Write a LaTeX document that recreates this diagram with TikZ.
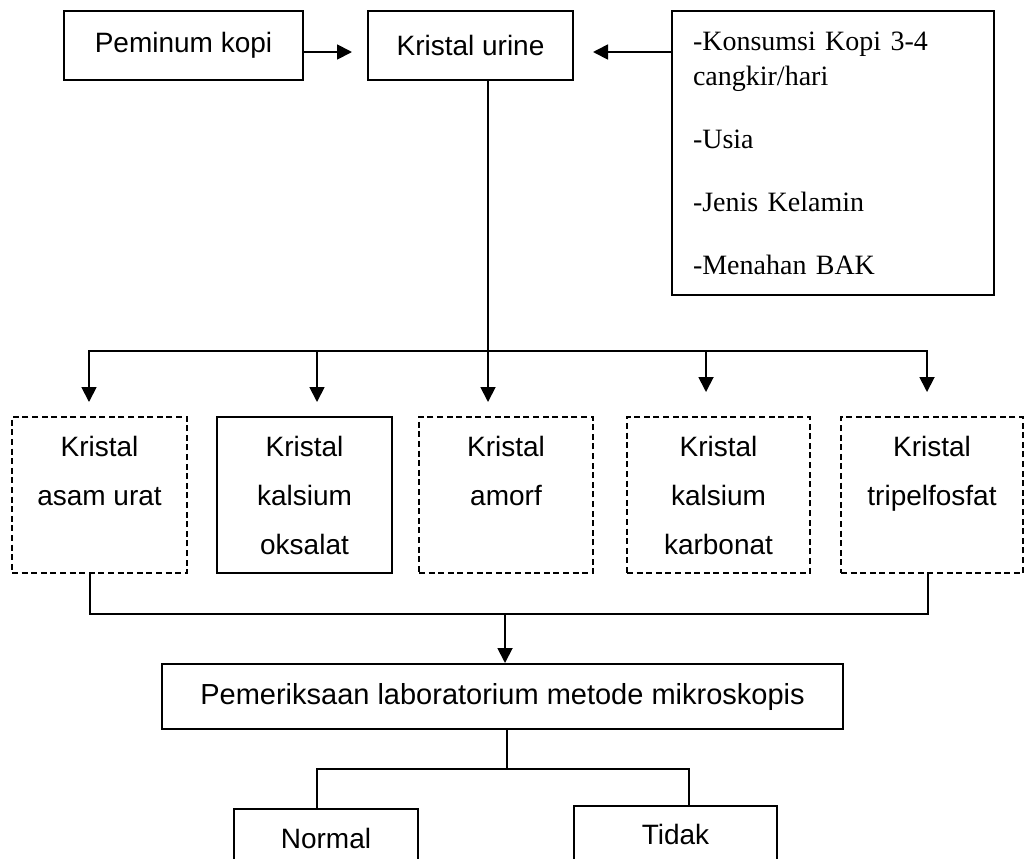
\documentclass[tikz,border=0pt]{standalone}
\usepackage{fontspec}
\setmainfont{Liberation Sans}
\newfontfamily\seriffont{Liberation Serif}
\usetikzlibrary{arrows.meta}
\begin{document}
\begin{tikzpicture}[x=0.5pt,y=-0.5pt,
  box/.style={draw, line width=1pt, inner sep=0pt, align=center, font=\fontsize{14}{24.5}\selectfont},
  dbox/.style={box, dash pattern=on 3pt off 1.8pt},
  conn/.style={line width=0.9pt},
  arr/.style={conn, -{Triangle[length=7.5pt,width=7.5pt]}}]
\useasboundingbox (0,0) rectangle (1026,858);
\clip (0,0) rectangle (1026,858);

% top row
\node[box, minimum width=119.5pt, minimum height=34.5pt] (peminum) at (183.5,45.5) {Peminum kopi};
\node[box, minimum width=102.5pt, minimum height=34.5pt] (urine) at (470.5,45.5) {Kristal urine};
\node[box, minimum width=161pt, minimum height=142pt, text width=140pt, align=left,
      font=\seriffont\fontsize{14}{17.5}\selectfont] (faktor) at (833,153)
  {-Konsumsi Kopi 3-4\\cangkir/hari\\[14pt]-Usia\\[14pt]-Jenis Kelamin\\[14pt]-Menahan BAK};

% crystal row
\node[dbox, minimum width=87.5pt, minimum height=78pt] (asam) at (99.5,495) {Kristal\\asam urat\\\mbox{}};
\node[box, minimum width=87.5pt, minimum height=78pt] (oksalat) at (304.5,495) {Kristal\\kalsium\\oksalat};
\node[dbox, minimum width=87pt, minimum height=78pt] (amorf) at (506,495) {Kristal\\amorf\\\mbox{}};
\node[dbox, minimum width=91.5pt, minimum height=78pt] (karbonat) at (718.5,495) {Kristal\\kalsium\\karbonat};
\node[dbox, minimum width=91pt, minimum height=78pt] (tripel) at (932,495) {Kristal\\tripelfosfat\\\mbox{}};

% lab
\node[box, minimum width=340.5pt, minimum height=32.5pt, font=\fontsize{14.5}{17}\selectfont] (pem) at (502.5,696.5)
  {Pemeriksaan laboratorium metode mikroskopis};
\node[box, minimum width=92pt, minimum height=29pt] (normal) at (326,838) {Normal};
\node[box, minimum width=101.5pt, minimum height=28pt] (tidak) at (675.5,834) {Tidak};

% coordinates
\coordinate (pk) at (352,52);
\coordinate (fk) at (593,52);
\coordinate (busL) at (89,351);
\coordinate (busR) at (927,351);
\coordinate (asT) at (89,402);
\coordinate (okT) at (317,402);
\coordinate (amT) at (488,402);
\coordinate (kbT) at (706,392);
\coordinate (tpT) at (927,392);
\coordinate (bL) at (90,614);
\coordinate (bR) at (928,614);
\coordinate (bM) at (505,614);
\coordinate (cM) at (507,769);
\coordinate (cL) at (317,769);
\coordinate (cR) at (689,769);

% connectors
\draw[arr] (peminum.east |- pk) -- (pk);
\draw[arr] (faktor.west |- fk) -- (fk);
\draw[arr] (urine.south -| amT) -- (amT);
\draw[arr] (busR) -- (busL) -- (asT);
\draw[arr] (busL) -- (busR) -- (tpT);
\draw[arr] (okT |- busL) -- (okT);
\draw[arr] (kbT |- busL) -- (kbT);
\draw[conn] (asam.south -| bL) -- (bL) -- (bR) -- (tripel.south -| bR);
\draw[arr] (bM) -- (pem.north -| bM);
\draw[conn] (pem.south -| cM) -- (cM);
\draw[conn] (normal.north -| cL) -- (cL) -- (cR) -- (tidak.north -| cR);
\end{tikzpicture}
\end{document}
